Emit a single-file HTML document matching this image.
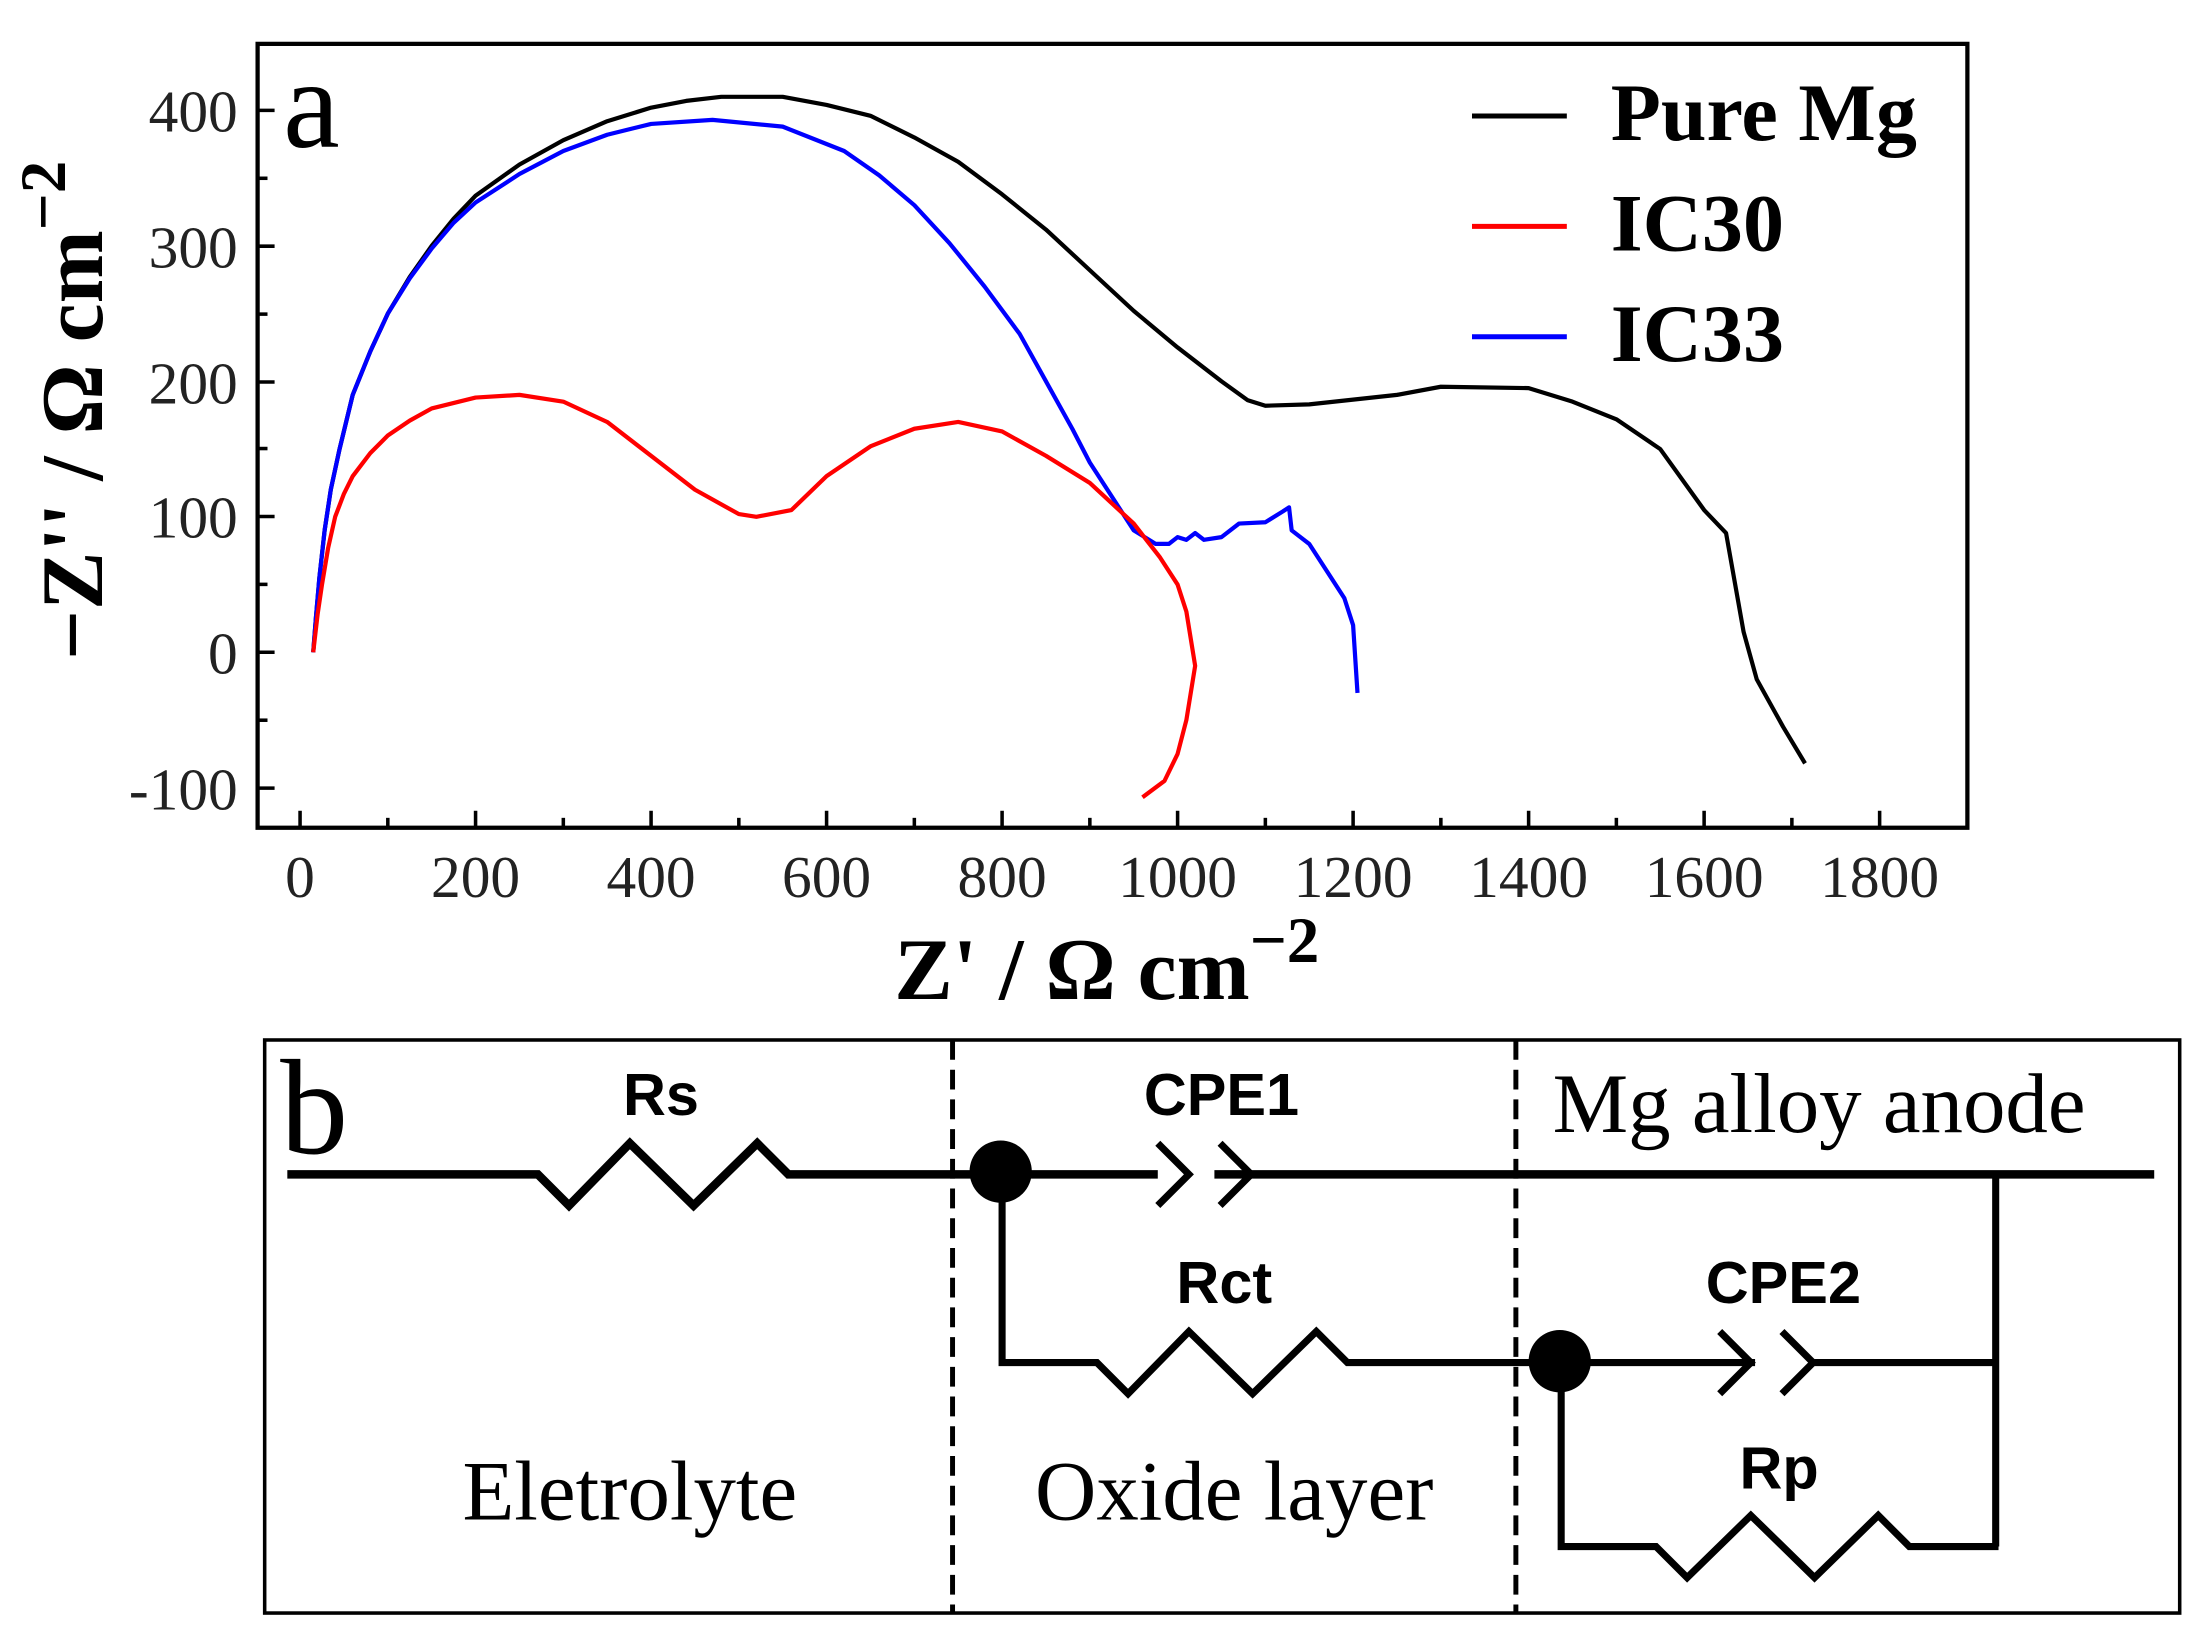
<!DOCTYPE html>
<html><head><meta charset="utf-8"><style>
html,body{margin:0;padding:0;background:#fff;}
svg{display:block;}
.s{font-family:"Liberation Serif",serif;}
.a{font-family:"Liberation Sans",sans-serif;font-weight:bold;}
</style></head><body>
<svg width="2208" height="1647" viewBox="0 0 1560 1164" preserveAspectRatio="none" xmlns="http://www.w3.org/2000/svg">
<rect width="1560" height="1164" fill="#fff"/>
<rect x="182" y="31" width="1208" height="554" fill="none" stroke="#000" stroke-width="3"/>
<g stroke="#000" stroke-width="2.5">
<line x1="182" y1="78" x2="194" y2="78"/><line x1="182" y1="174" x2="194" y2="174"/>
<line x1="182" y1="270" x2="194" y2="270"/><line x1="182" y1="365" x2="194" y2="365"/>
<line x1="182" y1="461" x2="194" y2="461"/><line x1="182" y1="557" x2="194" y2="557"/>
<line x1="182" y1="126" x2="189" y2="126"/><line x1="182" y1="222" x2="189" y2="222"/>
<line x1="182" y1="317" x2="189" y2="317"/><line x1="182" y1="413" x2="189" y2="413"/>
<line x1="182" y1="509" x2="189" y2="509"/>
<line x1="212" y1="585" x2="212" y2="573"/><line x1="336" y1="585" x2="336" y2="573"/>
<line x1="460" y1="585" x2="460" y2="573"/><line x1="584" y1="585" x2="584" y2="573"/>
<line x1="708" y1="585" x2="708" y2="573"/><line x1="832" y1="585" x2="832" y2="573"/>
<line x1="956" y1="585" x2="956" y2="573"/><line x1="1080" y1="585" x2="1080" y2="573"/>
<line x1="1204" y1="585" x2="1204" y2="573"/><line x1="1328" y1="585" x2="1328" y2="573"/>
<line x1="274" y1="585" x2="274" y2="578"/><line x1="398" y1="585" x2="398" y2="578"/>
<line x1="522" y1="585" x2="522" y2="578"/><line x1="646" y1="585" x2="646" y2="578"/>
<line x1="770" y1="585" x2="770" y2="578"/><line x1="894" y1="585" x2="894" y2="578"/>
<line x1="1018" y1="585" x2="1018" y2="578"/><line x1="1142" y1="585" x2="1142" y2="578"/>
<line x1="1266" y1="585" x2="1266" y2="578"/>
</g>
<g class="s" font-size="42" fill="#222" text-anchor="end">
<text x="168" y="93">400</text><text x="168" y="189">300</text><text x="168" y="285">200</text>
<text x="168" y="380">100</text><text x="168" y="476">0</text><text x="168" y="572">-100</text>
</g>
<g class="s" font-size="42" fill="#222" text-anchor="middle">
<text x="212" y="634">0</text><text x="336" y="634">200</text><text x="460" y="634">400</text>
<text x="584" y="634">600</text><text x="708" y="634">800</text><text x="832" y="634">1000</text>
<text x="956" y="634">1200</text><text x="1080" y="634">1400</text><text x="1204" y="634">1600</text>
<text x="1328" y="634">1800</text>
</g>
<text class="s" x="782" y="706" font-size="62" font-weight="bold" text-anchor="middle">Z' / Ω  cm<tspan font-size="46" dy="-26">−2</tspan></text>
<text class="s" transform="translate(72,290) rotate(-90)" font-size="62" font-weight="bold" text-anchor="middle">−Z'' / Ω  cm<tspan font-size="46" dy="-26">−2</tspan></text>
<text class="s" x="200" y="104" font-size="90">a</text>
<g stroke-width="3.5"><line x1="1040" y1="82" x2="1107" y2="82" stroke="#000"/>
<line x1="1040" y1="160" x2="1107" y2="160" stroke="#f00"/>
<line x1="1040" y1="238" x2="1107" y2="238" stroke="#00f"/></g>
<g class="s" font-size="58" font-weight="bold"><text x="1138" y="99">Pure Mg</text><text x="1138" y="177">IC30</text><text x="1138" y="255">IC33</text></g>
<g transform="translate(212,461) scale(0.62,-0.9575)" fill="none" stroke-width="4.2" stroke-linejoin="round">
<polyline vector-effect="non-scaling-stroke" stroke="#000" points="15,0 18,25 22,55 28,90 35,120 45,150 60,190 80,222 100,250 125,277 150,300 175,320 200,337 250,360 300,378 350,392 400,402 440,407 480,410 550,410 600,404 650,396 700,380 750,362 800,338 850,312 900,282 950,252 1000,225 1050,200 1080,186 1100,182 1150,183 1250,190 1300,196 1400,195 1450,185 1500,172 1550,150 1600,105 1625,88 1645,15 1660,-20 1690,-55 1715,-82"/>
<polyline vector-effect="non-scaling-stroke" stroke="#00f" points="15,0 18,25 22,55 28,90 35,120 45,150 60,190 80,222 100,250 125,276 150,298 175,317 200,332 250,353 300,370 350,382 400,390 470,393 550,388 620,370 660,352 700,330 740,302 780,270 820,235 850,200 880,165 900,140 950,90 975,80 990,80 1000,85 1010,83 1020,88 1030,83 1050,85 1070,95 1100,96 1120,104 1127,107 1130,90 1150,80 1170,60 1190,40 1200,20 1205,-30"/>
<polyline vector-effect="non-scaling-stroke" stroke="#f00" points="15,0 20,28 25,50 32,77 40,100 50,117 60,130 80,147 100,160 125,171 150,180 200,188 250,190 300,185 350,170 400,145 450,120 500,102 520,100 560,105 600,130 650,152 700,165 750,170 800,163 850,145 900,125 950,95 980,70 1000,50 1010,30 1020,-10 1010,-50 1000,-75 985,-95 960,-107"/>
</g>
<rect x="187" y="735" width="1353" height="405" fill="none" stroke="#000" stroke-width="2.5"/>
<g stroke="#000" stroke-width="3.5" stroke-dasharray="14,7"><line x1="673" y1="735" x2="673" y2="1140"/><line x1="1071" y1="735" x2="1071" y2="1140"/></g>
<g fill="none" stroke="#000" stroke-width="6" stroke-linejoin="miter">
<polyline points="203,830 380,830 402,852 445,808 490,852 535,808 557,830 818,830"/>
<line x1="858" y1="830" x2="1522" y2="830"/>
<polyline points="818,808 840,830 818,852" stroke-width="5"/>
<polyline points="862,808 884,830 862,852" stroke-width="5"/>
<polyline points="708,830 708,963 775,963 797,985 840,941 885,985 930,941 952,963 1240,963" stroke-width="5"/>
<line x1="1282" y1="963" x2="1410" y2="963" stroke-width="5"/>
<polyline points="1215,941 1237,963 1215,985" stroke-width="5"/>
<polyline points="1259,941 1281,963 1259,985" stroke-width="5"/>
<line x1="1410" y1="830" x2="1410" y2="1093" stroke-width="5"/>
<polyline points="1103,963 1103,1093 1170,1093 1192,1115 1237,1071 1282,1115 1327,1071 1349,1093 1412,1093" stroke-width="5"/>
</g>
<circle cx="707" cy="828" r="22" fill="#000"/>
<circle cx="1102" cy="962" r="22" fill="#000"/>
<g class="a" font-size="42" text-anchor="middle">
<text x="467" y="788">Rs</text><text x="863" y="788">CPE1</text><text x="865" y="921">Rct</text>
<text x="1260" y="921">CPE2</text><text x="1257" y="1052">Rp</text></g>
<g class="s" font-size="60">
<text x="1097" y="800">Mg alloy anode</text>
<text x="445" y="1074" text-anchor="middle">Eletrolyte</text>
<text x="872" y="1074" text-anchor="middle">Oxide layer</text>
<text x="198" y="815" font-size="96">b</text>
</g>
</svg>
</body></html>
